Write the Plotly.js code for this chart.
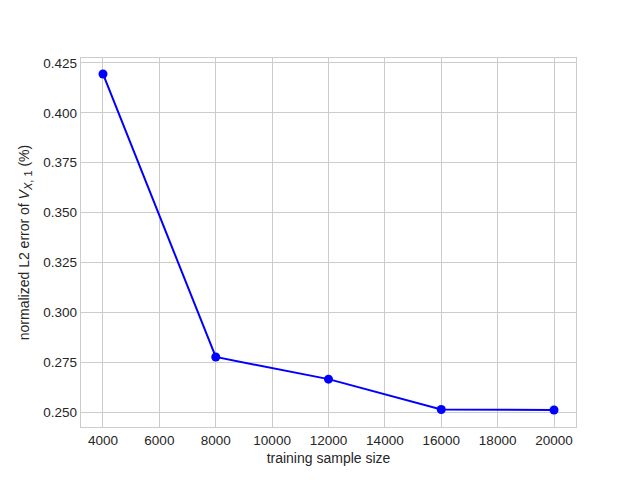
<!DOCTYPE html>
<html>
<head>
<meta charset="utf-8">
<script src="https://cdn.plot.ly/plotly-3.0.1.min.js"></script>
<style>html,body{margin:0;padding:0;background:#fff;}#chart{width:640px;height:480px;}</style>
</head>
<body>
<div id="chart"></div>
<script>
const sampleSizes = [4000, 8000, 12000, 16000, 20000];
const l2Errors = [0.4195, 0.2776, 0.2665, 0.2513, 0.2510];
const xTicks = [4000, 6000, 8000, 10000, 12000, 14000, 16000, 18000, 20000];
const yTicks = [0.250, 0.275, 0.300, 0.325, 0.350, 0.375, 0.400, 0.425];

const font = {family: 'Liberation Sans, Arial, sans-serif', size: 13.5, color: '#262626'};
const titleFont = {family: 'Liberation Sans, Arial, sans-serif', size: 14, color: '#262626'};

Plotly.newPlot('chart', [{
  x: sampleSizes,
  y: l2Errors,
  type: 'scatter',
  mode: 'lines+markers',
  line: {color: '#0000ff', width: 2},
  marker: {color: '#0000ff', size: 9},
  showlegend: false
}], {
  width: 640, height: 480,
  margin: {l: 81, r: 64, t: 58, b: 53},
  paper_bgcolor: '#ffffff',
  plot_bgcolor: '#ffffff',
  font: font,
  xaxis: {
    range: [3220, 20780],
    tickvals: xTicks,
    ticktext: xTicks.map(String),
    showgrid: true, gridcolor: '#cccccc', gridwidth: 1,
    zeroline: false,
    showline: true, linecolor: '#cccccc', linewidth: 1.3, mirror: true,
    ticks: '', ticklen: 0,
    tickfont: font,
    title: {text: 'training sample size', font: titleFont, standoff: 6}
  },
  yaxis: {
    range: [0.2425, 0.4275],
    tickvals: yTicks,
    ticktext: yTicks.map(v => v.toFixed(3)),
    showgrid: true, gridcolor: '#cccccc', gridwidth: 1,
    zeroline: false,
    showline: true, linecolor: '#cccccc', linewidth: 1.3, mirror: true,
    ticks: '', ticklen: 0,
    tickfont: font,
    title: {text: 'normalized L2 error of <i>V</i><sub><span style="font-size:11px"><i>X</i>, 1</span></sub> (%)', font: titleFont, standoff: 10}
  }
}, {staticPlot: true});
</script>
</body>
</html>
